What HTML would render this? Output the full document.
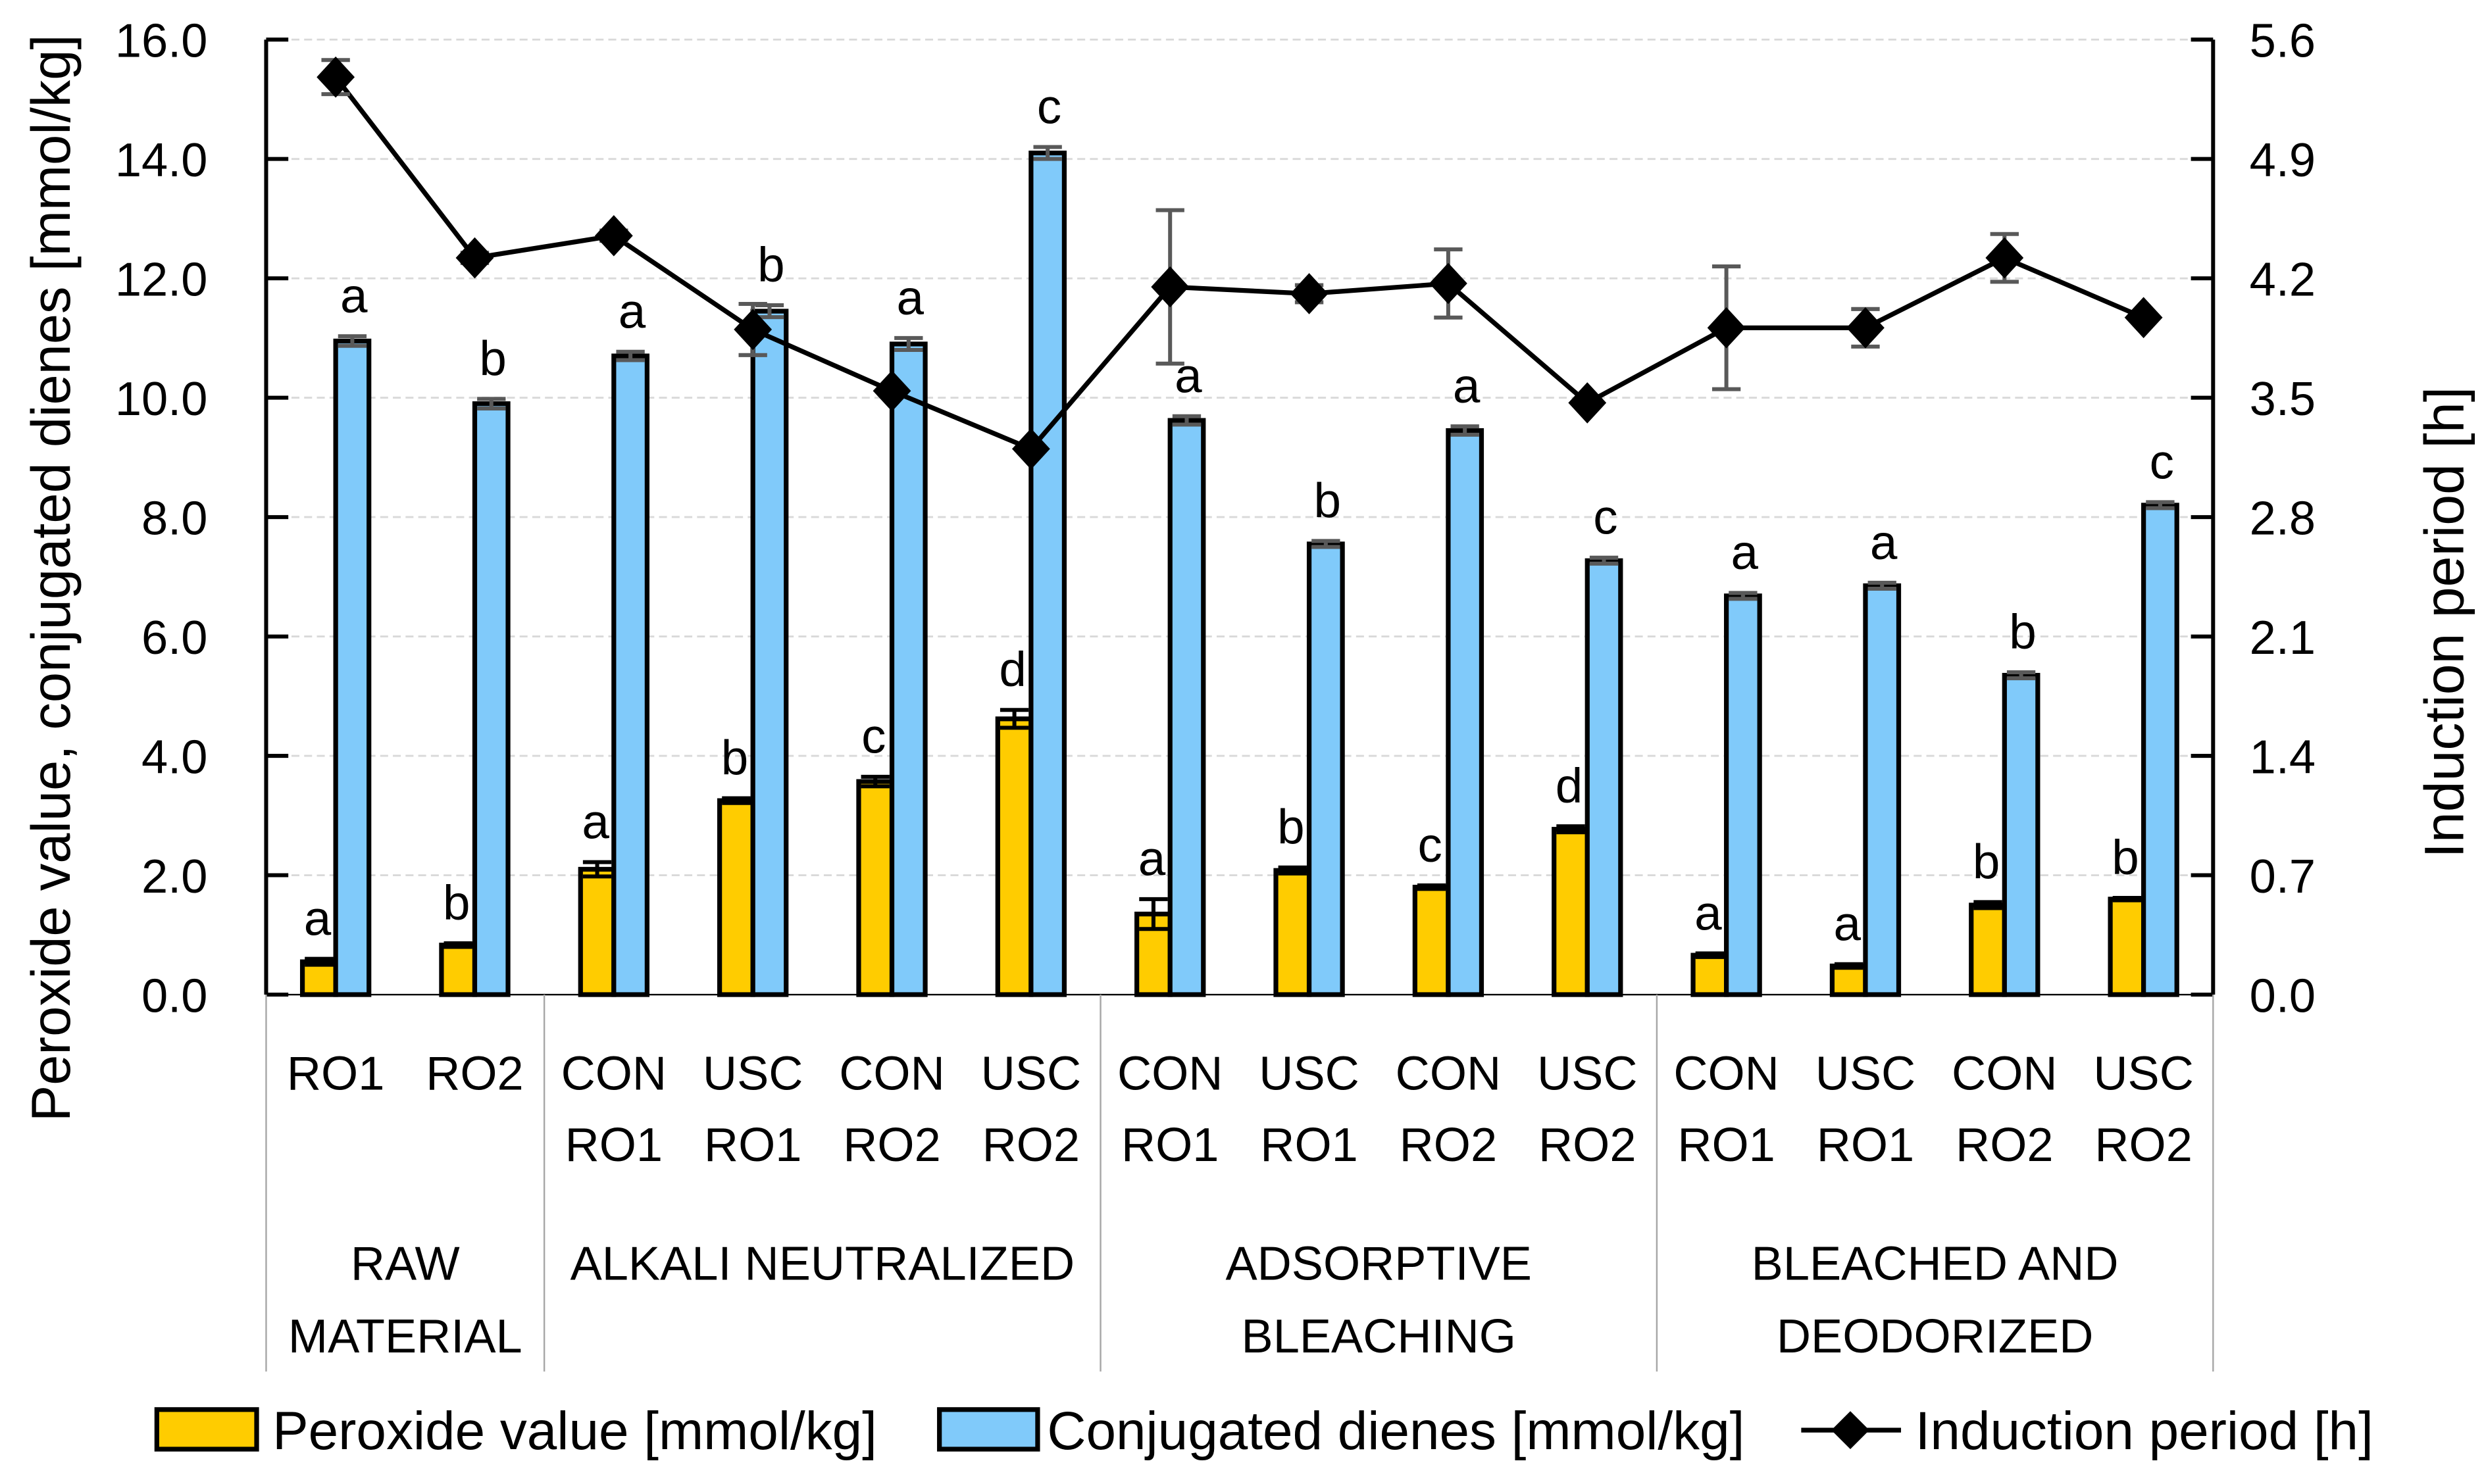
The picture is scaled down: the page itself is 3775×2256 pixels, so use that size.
<!DOCTYPE html>
<html><head><meta charset="utf-8"><style>
html,body{margin:0;padding:0;background:#fff}
svg{display:block}
text{font-family:"Liberation Sans",sans-serif;fill:#000}
</style></head><body>
<svg id="chart" width="3775" height="2256" viewBox="0 0 1568 937" preserveAspectRatio="none" xmlns="http://www.w3.org/2000/svg">
<g id="grid"></g>
<g id="bars"></g>
<g id="line"></g>
<g id="axes"></g>
<text transform="translate(44,365) rotate(-90)" text-anchor="middle" font-size="34.5">Peroxide value, conjugated dienes [mmol/kg]</text>
<text transform="translate(1555,393) rotate(-90)" text-anchor="middle" font-size="35">Induction period [h]</text>
<g>
  <rect x="99" y="890" width="63" height="25" fill="#FFCC00" stroke="#000" stroke-width="3"/>
  <text x="172" y="915" font-size="34">Peroxide value [mmol/kg]</text>
  <rect x="593" y="890" width="62" height="25" fill="#80CAFA" stroke="#000" stroke-width="3"/>
  <text x="661" y="915" font-size="34">Conjugated dienes [mmol/kg]</text>
  <line x1="1137" y1="903" x2="1200" y2="903" stroke="#000" stroke-width="3"/>
  <polygon points="1168,891 1180,903 1168,915 1156,903" fill="#000"/>
  <text x="1209" y="915" font-size="34">Induction period [h]</text>
</g>
</svg>
<script>
const categories = ["RO1","RO2","CON RO1","USC RO1","CON RO2","USC RO2","CON RO1","USC RO1","CON RO2","USC RO2","CON RO1","USC RO1","CON RO2","USC RO2"];
const groups = ["RAW|MATERIAL","ALKALI NEUTRALIZED","ADSORPTIVE|BLEACHING","BLEACHED AND|DEODORIZED"];
const groupSizes = [2,4,4,4];
const peroxide = [0.55,0.83,2.1,3.25,3.57,4.62,1.35,2.08,1.8,2.77,0.66,0.48,1.5,1.6];
const peroxideErr = [0.05,0.03,0.12,0.04,0.08,0.15,0.25,0.05,0.03,0.05,0.03,0.03,0.05,0.02];
const peroxideLetters = ["a","b","a","b","c","d","a","b","c","d","a","a","b","b"];
const dienes = [10.95,9.9,10.7,11.45,10.9,14.1,9.62,7.55,9.45,7.27,6.68,6.85,5.35,8.2];
const dienesErr = [0.08,0.08,0.07,0.1,0.1,0.1,0.07,0.05,0.07,0.05,0.05,0.05,0.05,0.05];
const dienesLetters = ["a","b","a","b","a","c","a","b","a","c","a","a","b","c"];
const induction = [5.38,4.32,4.45,3.9,3.54,3.2,4.15,4.11,4.17,3.47,3.91,3.91,4.32,3.97];
const inductionErr = [0.1,0.03,0.03,0.15,0,0,0.45,0.05,0.2,0,0.36,0.11,0.14,0];
const leftTicks = ["0.0","2.0","4.0","6.0","8.0","10.0","12.0","14.0","16.0"];
const rightTicks = ["0.0","0.7","1.4","2.1","2.8","3.5","4.2","4.9","5.6"];

const NS="http://www.w3.org/2000/svg";
const X0=168,X1=1397,Y0=628,Y1=25;
const yL=v=>Y0-(v/16)*(Y0-Y1);
const yR=v=>Y0-(v/5.6)*(Y0-Y1);
const step=(X1-X0)/categories.length;
const xc=i=>X0+step*(i+0.5);
function mk(tag,attrs,parent,txt){const e=document.createElementNS(NS,tag);for(const k in attrs)e.setAttribute(k,attrs[k]);if(txt!==undefined)e.textContent=txt;parent.appendChild(e);return e;}
const grid=document.getElementById('grid'),bars=document.getElementById('bars'),line=document.getElementById('line'),axes=document.getElementById('axes');

leftTicks.forEach((t,i)=>{
  const v=parseFloat(t),y=yL(v);
  if(i>0){const g=mk('line',{x1:X0,x2:X1,y1:y,y2:y,stroke:'#d9d9d9','stroke-width':1.2,'stroke-dasharray':'5,3'},grid);
  
  }
  const tk=mk('line',{x1:X0,x2:X0+14,y1:y,y2:y,stroke:'#000','stroke-width':2.5},axes);
  
  
  const tl=mk('text',{x:131,y:y+11,'text-anchor':'end','font-size':30},axes,t);
  
  
});
rightTicks.forEach((t)=>{
  const v=parseFloat(t),y=yR(v);
  const tk=mk('line',{x1:X1-14,x2:X1,y1:y,y2:y,stroke:'#000','stroke-width':2.5},axes);
  
  
  const tl=mk('text',{x:1420,y:y+11,'font-size':30},axes,t);
  
  
});
let a=mk('line',{x1:X0,x2:X0,y1:Y1,y2:Y0,stroke:'#000','stroke-width':2.5},axes);


a=mk('line',{x1:X1,x2:X1,y1:Y1,y2:Y0,stroke:'#000','stroke-width':2.5},axes);


a=mk('line',{x1:X0,x2:X1,y1:Y0,y2:Y0,stroke:'#000','stroke-width':1},axes);



function errbar(x,yt,yb,col,w){
  const g=mk('path',{d:`M${x},${yt}V${yb}M${x-w},${yt}H${x+w}M${x-w},${yb}H${x+w}`,stroke:col,'stroke-width':2.5,fill:'none'},bars);
  
  
}
const BW=21;
categories.forEach((c,i)=>{
  const cx=xc(i);
  const y1=yL(peroxide[i]);
  const r1=mk('rect',{x:cx-BW,y:y1,width:BW,height:Y0-y1,fill:'#FFCC00',stroke:'#000','stroke-width':3},bars);
  
  
  errbar(cx-BW/2,yL(peroxide[i]+peroxideErr[i]),yL(peroxide[i]-peroxideErr[i]),'#000',9);
  const l1=mk('text',{x:cx-BW/2-1,y:yL(peroxide[i]+peroxideErr[i])-15,'text-anchor':'middle','font-size':31},bars,peroxideLetters[i]);
  
  
  const y2=yL(dienes[i]);
  const r2=mk('rect',{x:cx,y:y2,width:BW,height:Y0-y2,fill:'#80CAFA',stroke:'#000','stroke-width':3},bars);
  
  
  errbar(cx+BW/2,yL(dienes[i]+dienesErr[i]),yL(dienes[i]-dienesErr[i]),'#595959',9);
  const l2=mk('text',{x:cx+BW/2+1,y:yL(dienes[i]+dienesErr[i])-15,'text-anchor':'middle','font-size':31},bars,dienesLetters[i]);
  
  
  const parts=c.split(' ');
  parts.forEach((p,k)=>{
    const t=mk('text',{x:cx,y:(parts.length===1?688:688+45*k),'text-anchor':'middle','font-size':30},axes,p);
    
    
  });
});
const pts=induction.map((v,i)=>`${xc(i)},${yR(v)}`).join(' ');
const pl=mk('polyline',{points:pts,fill:'none',stroke:'#000','stroke-width':3},line);


induction.forEach((v,i)=>{
  const x=xc(i),y=yR(v);
  if(inductionErr[i]>0){
    const e=mk('path',{d:`M${x},${yR(v+inductionErr[i])}V${yR(v-inductionErr[i])}M${x-9},${yR(v+inductionErr[i])}H${x+9}M${x-9},${yR(v-inductionErr[i])}H${x+9}`,stroke:'#595959','stroke-width':2.5,fill:'none'},line);
    
    
  }
  const d=mk('polygon',{points:`${x},${y-13} ${x+12},${y} ${x},${y+13} ${x-12},${y}`,fill:'#000'},line);
  
  
});
let start=0;
const sep0=mk('line',{x1:X0,x2:X0,y1:Y0,y2:866,stroke:'#a6a6a6','stroke-width':1},axes);


groups.forEach((g,gi)=>{
  const end=start+groupSizes[gi];
  const xs=X0+step*start,xe=X0+step*end;
  const s=mk('line',{x1:xe,x2:xe,y1:Y0,y2:866,stroke:'#a6a6a6','stroke-width':1},axes);
  
  
  g.split('|').forEach((p,k)=>{
    const t=mk('text',{x:(xs+xe)/2,y:808+46*k,'text-anchor':'middle','font-size':30},axes,p);
    
    
  });
  start=end;
});
</script>
</body></html>
